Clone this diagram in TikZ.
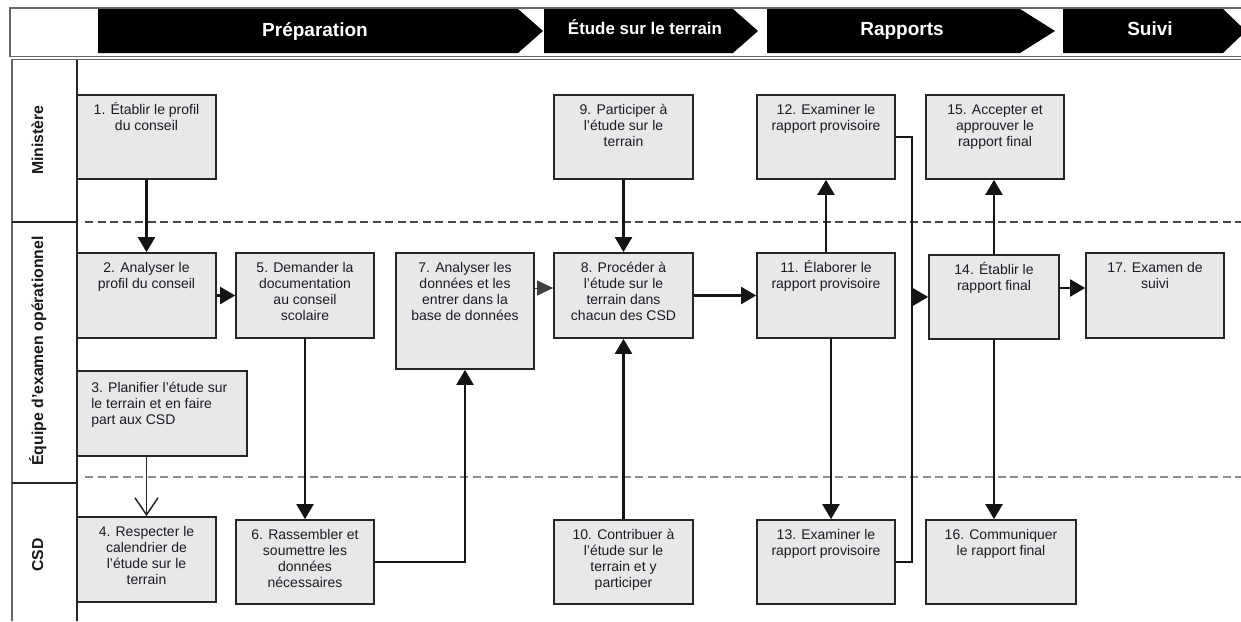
\documentclass[tikz,border=0pt]{standalone}
\usepackage{fontspec}
\setmainfont{Liberation Sans}
\usetikzlibrary{arrows.meta,fit,calc}
\definecolor{boxfill}{HTML}{E8E8E8}
\definecolor{boxline}{HTML}{262626}
\definecolor{txt}{HTML}{1E1A24}
\tikzset{
  stepbox/.style={draw=boxline, fill=boxfill, line width=1.7pt, inner sep=0pt},
  boxtext/.style={anchor=base, inner sep=0pt, text=txt, font=\fontsize{14pt}{16pt}\selectfont},
  conn/.style={line width=2.2pt, draw=black!92},
  arr/.style={conn, -{Triangle[length=15pt,width=17pt]}},
  openarr/.style={line width=1.5pt, draw=black!85, -{Straight Barb[length=17pt,width=23pt,line width=1.5pt]}},
  headonly/.style={draw=black!75, line width=1pt, -{Triangle[length=16pt,width=15pt,fill=black!75]}},
  lanedash/.style={line width=1.8pt, dash pattern=on 8pt off 4.5pt},
  frame/.style={line width=1.4pt, draw=black!60},
  lanelab/.style={inner sep=0pt, anchor=base, rotate=90, text=black!90, font=\fontsize{15.8pt}{18pt}\selectfont\bfseries},
  hdr/.style={inner sep=0pt, anchor=base, text=white, font=\fontsize{19pt}{22pt}\selectfont\bfseries},
  chev/.style={fill=black}
}
\newcommand\mkbox[6]{%
  \coordinate (#1-nw) at (#2,#3);
  \coordinate (#1-se) at (#4,#5);
  \node[stepbox, fit=(#1-nw)(#1-se)] (#1) {};
  \node[boxtext] (#1-t) at ([yshift=-20.5pt]#1.north) {\parbox[t]{170pt}{\centering #6}};
}
\begin{document}
\begin{tikzpicture}[x=1pt, y=-1pt]
\useasboundingbox (0,0) rectangle (1241,621);
\fill[white] (0,0) rectangle (1241,621);

% header frame
\draw[frame] (1241,8) -- (10,8) -- (10,56.5) -- (1241,56.5);
% chevrons
\fill[chev] (98,9) -- (518,9) -- (543,31) -- (518,53) -- (98,53) -- cycle;
\fill[chev] (544,9) -- (733,9) -- (758,31) -- (733,53) -- (544,53) -- cycle;
\fill[chev] (767,9) -- (1020,9) -- (1055,31) -- (1020,53) -- (767,53) -- cycle;
\fill[chev] (1063,9) -- (1223,9) -- (1246,31) -- (1223,53) -- (1063,53) -- cycle;
\node[hdr] (h1) at (315,36) {Préparation};
\node[hdr, font=\fontsize{16.9pt}{20pt}\selectfont\bfseries] (h2) at (645,34) {Étude sur le terrain};
\node[hdr] (h3) at (902,35.5) {Rapports};
\node[hdr] (h4) at (1150,35.5) {Suivi};

% lane frame
\draw[frame] (12,621) -- (12,59.5) -- (1241,59.5);
\draw[line width=1.6pt, draw=black!85] (77,59.5) -- (77,621);
\draw[line width=1.6pt, draw=black!85] (12,222) -- (77,222);
\draw[line width=1.6pt, draw=black!85] (12,483) -- (77,483);
\draw[lanedash, draw=black!72] (85,222) -- (1241,222);
\draw[lanedash, draw=black!45] (85,477) -- (1241,477);

\node[lanelab] (l1) at (43,140) {Ministère};
\node[lanelab] (l2) at (43,351) {Équipe d'examen opérationnel};
\node[lanelab] (l3) at (43,555) {CSD};

% boxes
\mkbox{b1}{77}{95}{216}{179}{1. Établir le profil\\du conseil}
\mkbox{b2}{77}{253}{216}{338}{2. Analyser le\\profil du conseil}
\coordinate (b3-nw) at (77,371);
\coordinate (b3-se) at (247,456);
\node[stepbox, fit=(b3-nw)(b3-se)] (b3) {};
\node[boxtext, anchor=base west] (b3-t) at ([xshift=15pt,yshift=-22pt]b3.north west)
  {\parbox[t]{170pt}{\raggedright 3. Planifier l'étude sur\\le terrain et en faire\\part aux CSD}};
\mkbox{b4}{77}{517}{216}{602}{4. Respecter le\\calendrier de\\l'étude sur le\\terrain}
\mkbox{b5}{236}{253}{374}{338}{5. Demander la\\documentation\\au conseil\\scolaire}
\mkbox{b6}{236}{520}{374}{604}{6. Rassembler et\\soumettre les\\données\\nécessaires}
\mkbox{b7}{396}{253}{534}{369}{7. Analyser les\\données et les\\entrer dans la\\base de données}
\mkbox{b8}{554}{253}{693}{338}{8. Procéder à\\l'étude sur le\\terrain dans\\chacun des CSD}
\mkbox{b9}{554}{95}{693}{179}{9. Participer à\\l'étude sur le\\terrain}
\mkbox{b10}{554}{520}{693}{604}{10. Contribuer à\\l'étude sur le\\terrain et y\\participer}
\mkbox{b11}{757}{253}{895}{338}{11. Élaborer le\\rapport provisoire}
\mkbox{b12}{757}{95}{895}{179}{12. Examiner le\\rapport provisoire}
\mkbox{b13}{757}{520}{895}{604}{13. Examiner le\\rapport provisoire}
\mkbox{b14}{929}{255}{1059}{339}{14. Établir le\\rapport final}
\mkbox{b15}{926}{95}{1064}{179}{15. Accepter et\\approuver le\\rapport final}
\mkbox{b16}{926}{520}{1076}{604}{16. Communiquer\\le rapport final}
\mkbox{b17}{1086}{253}{1224}{338}{17. Examen de\\suivi}

% helper coordinates
\coordinate (y288) at (0,288);
\coordinate (j) at (912,297);

% connectors
\draw[arr] (b1.south) -- (b2.north);
\draw[arr] (b2.east) -- (b5.west);
\draw[openarr] (b4.north |- b3.south) -- (b4.north);
\draw[arr] (b5.south) -- (b6.north);
\draw[arr] (b6.east) -| (b7.south);
\draw[headonly] (b7.east |- y288) -- (b8.west |- y288);
\draw[arr] (b9.south) -- (b8.north);
\draw[arr] (b10.north) -- (b8.south);
\draw[arr] (b8.east) -- (b11.west);
\draw[arr] (b11.north) -- (b12.south);
\draw[arr] ([xshift=5pt]b11.south) -- ([xshift=5pt]b13.north);
\draw[conn] (b12.east) -| (j) |- (b13.east);
\draw[arr] (j) -- (b14.west);
\draw[arr] (b14.north) -- (b14.north |- b15.south);
\draw[arr] (b14.south) -- (b14.south |- b16.north);
\draw[arr] (b14.east |- y288) -- (b17.west |- y288);
\end{tikzpicture}
\end{document}
